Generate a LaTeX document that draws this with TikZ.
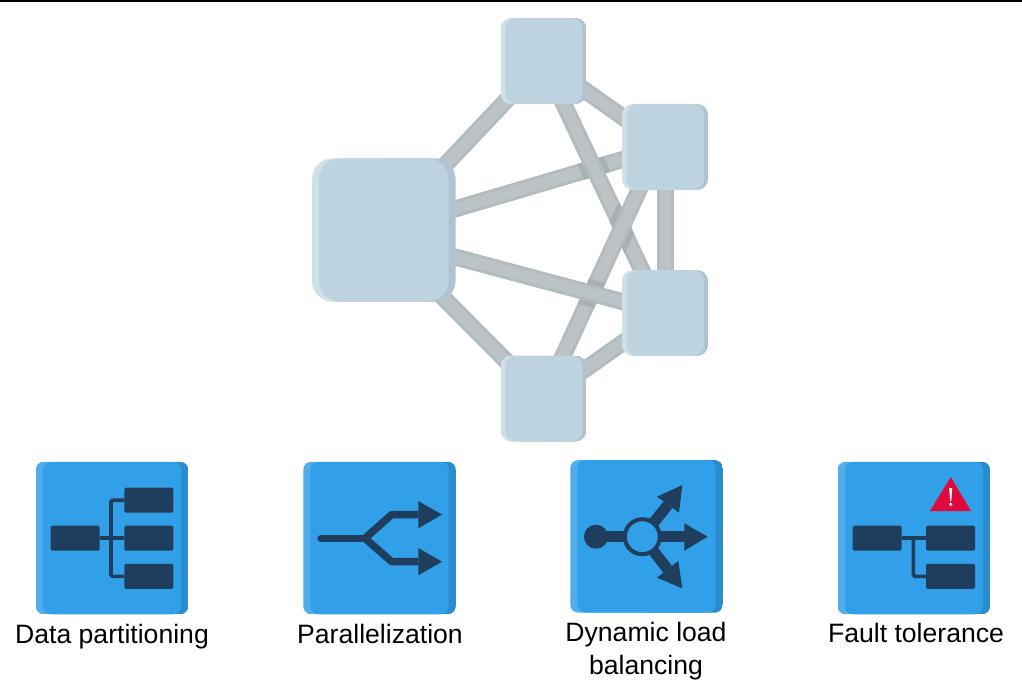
\documentclass[tikz,border=0pt]{standalone}
\usepackage{fontspec}
\setmainfont{Liberation Sans}
\usetikzlibrary{calc,backgrounds}
\definecolor{netmain}{HTML}{BDD3E0}
\definecolor{netlight}{HTML}{CFE0E9}
\definecolor{netdark}{HTML}{AFC4D0}
\definecolor{barside}{HTML}{B4BBBF}
\definecolor{barcore}{HTML}{BCC3C6}
\definecolor{barshade}{HTML}{A7B0B5}
\definecolor{iconmain}{HTML}{31A0E8}
\definecolor{iconlight}{HTML}{50AEEC}
\definecolor{icondark}{HTML}{2B8DCF}
\definecolor{ink}{HTML}{1F3D5C}
\definecolor{alert}{HTML}{E0093E}
\tikzset{
  panel/.style n args={7}{
    rectangle, inner sep=0pt, outer sep=0pt, minimum size=#1pt, rounded corners=#2pt,
    path picture={
      \fill[sharp corners,#5] (path picture bounding box.south west) rectangle (path picture bounding box.north);
      \fill[sharp corners,#6] (path picture bounding box.south) rectangle (path picture bounding box.north east);
      \fill[#7,rounded corners=#2pt] ([xshift=#3pt]path picture bounding box.south west) rectangle ([xshift=-#4pt]path picture bounding box.north east);
    }},
  netsmall/.style={panel={86}{11}{4.6}{4}{netlight}{netdark}{netmain}},
  netbig/.style={panel={143.5}{21}{7}{7}{netlight}{netdark}{netmain}},
  iconpanel/.style={panel={152.5}{8}{7.2}{7.2}{iconlight}{icondark}{iconmain}},
  inkbox/.style={rectangle, inner sep=0pt, outer sep=0pt, minimum width=49pt, minimum height=25pt, rounded corners=1.5pt, fill=ink},
  wire/.style={draw=ink, line width=3.6pt, line join=round},
  stem/.style={draw=ink, line width=11pt},
  fork/.style={draw=ink, line width=7.5pt, line join=round},
  head/.style={fill=ink},
  bar/.style={draw=barside, line width=3pt, double=barcore, double distance=11pt},
  label/.style={inner sep=0pt, align=center, font=\fontsize{26.6}{33}\selectfont}
}
\newcommand{\shadebar}[4]{%
  \begin{scope}
    \clip ($(#1)!8.5pt!90:(#2)$) -- ($(#1)!8.5pt!-90:(#2)$) -- ($(#2)!8.5pt!90:(#1)$) -- ($(#2)!8.5pt!-90:(#1)$) -- cycle;
    \draw[draw=barshade, line width=27pt] (#3) -- (#4);
  \end{scope}}
\begin{document}
\begin{tikzpicture}[x=1pt,y=-1pt]
\useasboundingbox (0,0) rectangle (1022,690);
\fill[black] (0,0) rectangle (1022,1.6);
% network
\node[netbig] (big) at (383.8,230) {};
\node[netsmall] (top) at (543.5,61) {};
\node[netsmall] (ru) at (665,147) {};
\node[netsmall] (rl) at (665,313) {};
\node[netsmall] (bot) at (543.5,398.5) {};
\coordinate (biglow) at (384,238);
\coordinate (ruleft) at (658.7,147);
\coordinate (rlleft) at (662,313);
\begin{pgfonlayer}{background}
\fill[white] (0,1.6) rectangle (1022,690);
\draw[bar] (big.center) -- (top.center);
\draw[bar] (biglow) -- (bot.center);
\draw[bar] (big.center) -- (ru.center);
\draw[bar] (top.center) -- (ru.center);
\draw[bar] (ru.center) -- (rl.center);
\draw[bar] (rl.center) -- (bot.center);
\shadebar{big.center}{ru.center}{top.center}{rlleft}
\draw[bar] (top.center) -- (rlleft);
\shadebar{top.center}{rlleft}{ruleft}{bot.center}
\draw[bar] (ruleft) -- (bot.center);
\shadebar{ruleft}{bot.center}{biglow}{rl.center}
\draw[bar] (biglow) -- (rl.center);
\end{pgfonlayer}
% icon 1
\node[iconpanel] (i1) at (112,538) {};
\node[inkbox] (a0) at (75.2,538.2) {};
\node[inkbox] (a1) at (148.8,500.2) {};
\node[inkbox] (a2) at (148.8,538.2) {};
\node[inkbox] (a3) at (148.8,576.3) {};
\coordinate (aj) at (111,538.2);
\draw[wire] (a0.east) -- (a2.west);
\draw[wire,rounded corners=1.5pt] (a1.west) -| (aj) |- (a3.west);
% icon 2
\node[iconpanel] (i2) at (379.5,538) {};
\coordinate (bs) at (321,538.3);
\coordinate (bj) at (365,538.3);
\coordinate (bu) at (391.7,514.6);
\coordinate (bd) at (391.7,561.7);
\coordinate (bt1) at (442,514.6);
\coordinate (bb1) at (418.3,514.6);
\coordinate (bt2) at (442,561.7);
\coordinate (bb2) at (418.3,561.7);
\draw[fork,line cap=round] (bs) -- (bj);
\draw[fork] (bb1) -- (bu) -- (bj) -- (bd) -- (bb2);
\fill[head] (418.3,501) -- (bt1) -- (418.3,528.3) -- cycle;
\fill[head] (418.3,548) -- (bt2) -- (418.3,575.3) -- cycle;
% icon 3
\node[iconpanel] (i3) at (646.5,536.4) {};
\coordinate (cdc) at (596,536.7);
\coordinate (ccc) at (642.3,536.7);
\coordinate (cr) at (685,536.7);
\coordinate (cu) at (668,504.7);
\coordinate (cl) at (667.7,569.3);
\draw[stem] (cdc) -- (ccc);
\draw[stem] (ccc) -- (cr);
\draw[stem] (ccc) -- (cu);
\draw[stem] (ccc) -- (cl);
\node[circle, fill=ink, inner sep=0pt, minimum size=24pt] (cd) at (cdc) {};
\node[circle, draw=ink, fill=iconmain, line width=4pt, inner sep=0pt, minimum size=35pt, outer sep=0pt] (cc) at (ccc) {};
\fill[head] (684.3,523.3) -- (707.7,536.7) -- (684.3,550.7) -- cycle;
\fill[head] (657,496.7) -- (682.3,485) -- (679,512.7) -- cycle;
\fill[head] (657,577.7) -- (682.3,588.3) -- (678.3,561) -- cycle;
% icon 4
\node[iconpanel] (i4) at (913.8,538) {};
\node[inkbox] (d0) at (877.2,538.2) {};
\node[inkbox] (d1) at (950.5,538.2) {};
\node[inkbox] (d2) at (950.5,576.3) {};
\coordinate (dj) at (913.3,538.2);
\draw[wire] (d0.east) -- (d1.west);
\draw[wire,rounded corners=1.5pt] (dj) |- (d2.west);
\fill[alert] (950.7,477) -- (971,511) -- (930,511) -- cycle;
\fill[white] (949.2,488) -- (952.2,488) -- (951.3,501) -- (950.1,501) -- cycle;
\fill[white] (950.7,504.3) circle (1.8);
% labels
\node[label,anchor=base] (l1) at (112,643) {Data partitioning};
\node[label,anchor=base] (l2) at (380,643) {Parallelization};
\node[label] (l3) at (646,651) {Dynamic load\\balancing};
\node[label,anchor=base] (l4) at (916,642.5) {Fault tolerance};
\end{tikzpicture}
\end{document}
